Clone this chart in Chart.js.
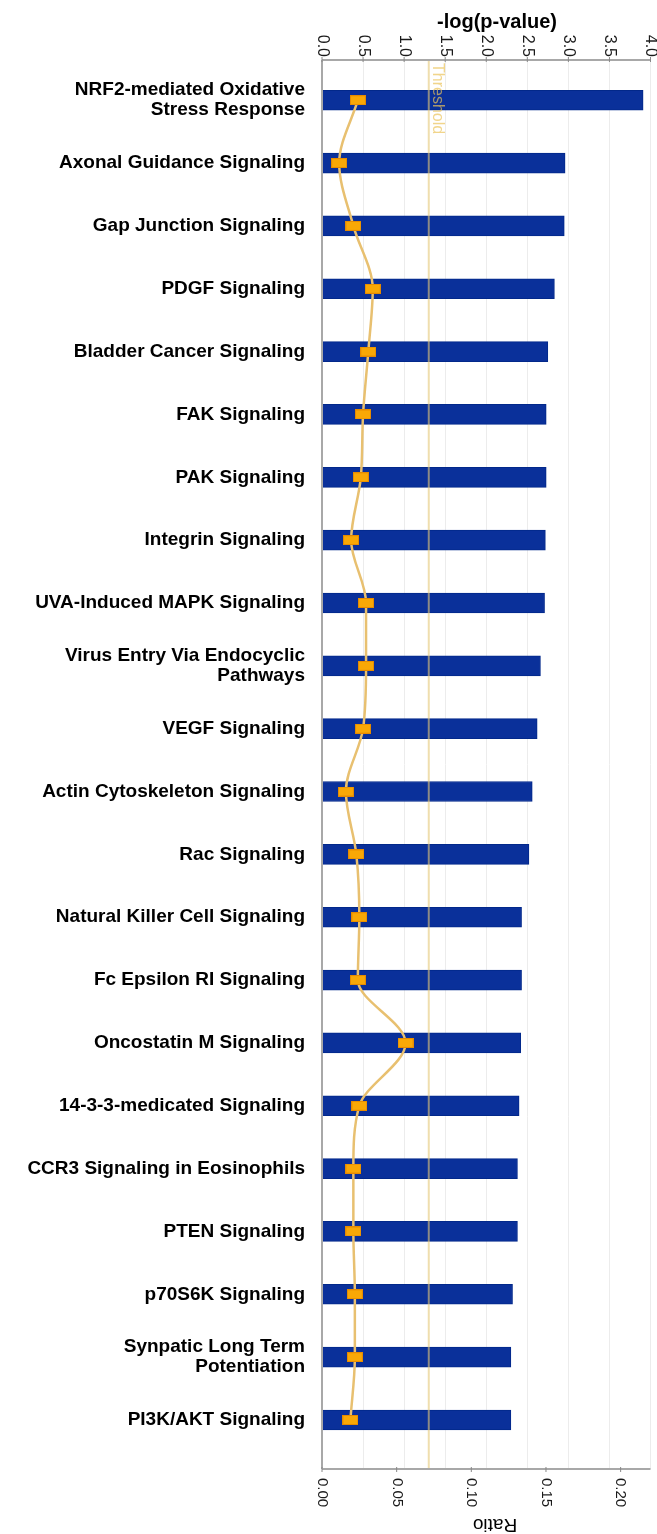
<!DOCTYPE html>
<html>
<head>
<meta charset="utf-8">
<title>Canonical pathways</title>
<script src="https://cdn.jsdelivr.net/npm/chart.js@4.4.1/dist/chart.umd.min.js"></script>
<style>
    html, body { margin: 0; padding: 0; background: #ffffff; }
    #wrap { width: 657px; height: 1534px; position: relative; }
</style>
</head>
<body>
<div id="wrap"><canvas id="myChart"></canvas></div>
<script>
// pathway names (line breaks kept as in the picture)
const categories = [
    ['NRF2-mediated Oxidative', 'Stress Response'],
    'Axonal Guidance Signaling',
    'Gap Junction Signaling',
    'PDGF Signaling',
    'Bladder Cancer Signaling',
    'FAK Signaling',
    'PAK Signaling',
    'Integrin Signaling',
    'UVA-Induced MAPK Signaling',
    ['Virus Entry Via Endocyclic', 'Pathways'],
    'VEGF Signaling',
    'Actin Cytoskeleton Signaling',
    'Rac Signaling',
    'Natural Killer Cell Signaling',
    'Fc Epsilon RI Signaling',
    'Oncostatin M Signaling',
    '14-3-3-medicated Signaling',
    'CCR3 Signaling in Eosinophils',
    'PTEN Signaling',
    'p70S6K Signaling',
    ['Synpatic Long Term', 'Potentiation'],
    'PI3K/AKT Signaling'
];

const logPValues = [3.91, 2.96, 2.95, 2.83, 2.75, 2.73, 2.73, 2.72, 2.71, 2.66, 2.62,
                    2.56, 2.52, 2.43, 2.43, 2.42, 2.40, 2.38, 2.38, 2.32, 2.30, 2.30];

const ratioValues = [0.024, 0.0115, 0.021, 0.034, 0.031, 0.0275, 0.026, 0.0195, 0.0295, 0.0295, 0.0275,
                     0.016, 0.023, 0.025, 0.024, 0.056, 0.025, 0.021, 0.021, 0.022, 0.022, 0.019];

const logTicks = [0.0, 0.5, 1.0, 1.5, 2.0, 2.5, 3.0, 3.5, 4.0];
const ratioTicks = [0.00, 0.05, 0.10, 0.15, 0.20];
const threshold = 1.3;

function makeMarker(){
    const c = document.createElement('canvas');
    c.width = 16;
    c.height = 10;
    const g = c.getContext('2d');
    g.fillStyle = '#e58a00';
    g.fillRect(0, 0, 16, 10);
    g.fillStyle = '#f9a806';
    g.fillRect(1, 1, 14, 8);
    return c;
}

const labelsPlugin = {
    id: 'labelsPlugin',
    beforeDatasetDraw(chart, args){
        // threshold line sits above the bars but under the ratio line
        if (args.index !== 1) return;
        const ctx = chart.ctx;
        const area = chart.chartArea;
        const tx = chart.scales.x.getPixelForValue(threshold);
        ctx.save();
        ctx.strokeStyle = 'rgba(228, 200, 120, 0.6)';
        ctx.lineWidth = 2;
        ctx.beginPath();
        ctx.moveTo(tx, area.top);
        ctx.lineTo(tx, area.bottom);
        ctx.stroke();
        ctx.translate(tx + 9, area.top + 3);
        ctx.rotate(Math.PI / 2);
        ctx.fillStyle = 'rgba(235, 195, 90, 0.7)';
        ctx.font = '16px "Liberation Sans", Arial, sans-serif';
        ctx.textAlign = 'left';
        ctx.textBaseline = 'middle';
        ctx.fillText('Threshold', 0, 0);
        ctx.restore();
    },
    afterDraw(chart){
        const ctx = chart.ctx;
        const area = chart.chartArea;
        const xs = chart.scales.x;
        const x2 = chart.scales.x2;
        const ys = chart.scales.y;

        ctx.save();
        // axis lines
        ctx.strokeStyle = '#a8a8a8';
        ctx.lineWidth = 2;
        ctx.beginPath();
        ctx.moveTo(area.left, area.top);
        ctx.lineTo(area.right, area.top);
        ctx.moveTo(area.left, area.top);
        ctx.lineTo(area.left, area.bottom);
        ctx.moveTo(area.left, area.bottom);
        ctx.lineTo(area.right, area.bottom);
        ctx.stroke();

        // top ticks
        ctx.fillStyle = '#1a1a1a';
        ctx.font = '16px "Liberation Sans", Arial, sans-serif';
        logTicks.forEach(v => {
            const px = xs.getPixelForValue(v);
            ctx.strokeStyle = '#888';
            ctx.lineWidth = 1;
            ctx.beginPath();
            ctx.moveTo(px, area.top - 3);
            ctx.lineTo(px, area.top + 2);
            ctx.stroke();
            ctx.save();
            ctx.translate(px, area.top - 3);
            ctx.rotate(Math.PI / 2);
            ctx.textAlign = 'right';
            ctx.textBaseline = 'middle';
            ctx.fillText(v.toFixed(1), 0, 0);
            ctx.restore();
        });

        // bottom ticks
        ctx.font = '15px "Liberation Sans", Arial, sans-serif';
        ratioTicks.forEach(v => {
            const px = x2.getPixelForValue(v);
            ctx.strokeStyle = '#888';
            ctx.lineWidth = 1;
            ctx.beginPath();
            ctx.moveTo(px, area.bottom - 2);
            ctx.lineTo(px, area.bottom + 3);
            ctx.stroke();
            ctx.save();
            ctx.translate(px, area.bottom + 9);
            ctx.rotate(Math.PI / 2);
            ctx.textAlign = 'left';
            ctx.textBaseline = 'middle';
            ctx.fillText(v.toFixed(2), 0, 0);
            ctx.restore();
        });

        // axis titles
        ctx.font = 'bold 20px "Liberation Sans", Arial, sans-serif';
        ctx.textAlign = 'center';
        ctx.textBaseline = 'middle';
        ctx.fillStyle = '#000';
        ctx.fillText('-log(p-value)', 497, 22);

        ctx.save();
        ctx.translate(495, 1524);
        ctx.rotate(Math.PI);
        ctx.font = '19px "Liberation Sans", Arial, sans-serif';
        ctx.fillText('Ratio', 0, 0);
        ctx.restore();

        // pathway labels
        ctx.font = 'bold 19px "Liberation Sans", Arial, sans-serif';
        ctx.textAlign = 'right';
        categories.forEach((name, i) => {
            const lines = Array.isArray(name) ? name : [name];
            const cy = ys.getPixelForValue(i);
            lines.forEach((line, k) => {
                const yy = cy + (k - (lines.length - 1) / 2) * 20;
                ctx.fillText(line, 305, yy);
            });
        });
        ctx.restore();
    }
};

function getChart(){
    const ctx = document.getElementById('myChart');

    new Chart(ctx, {
        data: {
            datasets: [{
                type: 'bar',
                label: '-log(p-value)',
                data: logPValues.map((v, i) => ({ x: v, y: i })),
                xAxisID: 'x',
                yAxisID: 'y',
                backgroundColor: '#0a309a',
                borderColor: '#02288a',
                borderWidth: 1,
                barThickness: 20,
                order: 1
            }, {
                type: 'line',
                label: 'Ratio',
                data: ratioValues.map((v, i) => ({ x: v, y: i })),
                xAxisID: 'x2',
                yAxisID: 'y',
                indexAxis: 'y',
                borderColor: '#e8c070',
                borderWidth: 2.5,
                cubicInterpolationMode: 'monotone',
                pointStyle: makeMarker(),
                order: 0
            }]
        },
        options: {
            indexAxis: 'y',
            responsive: true,
            maintainAspectRatio: false,
            animation: false,
            layout: {
                padding: { left: 322, right: 5, top: 60, bottom: 65 }
            },
            plugins: {
                legend: { display: false },
                tooltip: { enabled: false }
            },
            scales: {
                x: {
                    type: 'linear',
                    position: 'top',
                    min: 0,
                    max: 4,
                    ticks: { display: false, stepSize: 0.5 },
                    grid: { color: '#ececec', lineWidth: 1, drawTicks: false },
                    border: { display: false }
                },
                x2: {
                    type: 'linear',
                    position: 'bottom',
                    min: 0,
                    max: 0.22,
                    ticks: { display: false },
                    grid: { display: false, drawTicks: false },
                    border: { display: false }
                },
                y: {
                    type: 'linear',
                    reverse: true,
                    offset: false,
                    min: -0.64,
                    max: 21.78,
                    display: false
                }
            }
        },
        plugins: [labelsPlugin]
    });
}

document.addEventListener('DOMContentLoaded', (event) => {
    getChart();
});
</script>
</body>
</html>
